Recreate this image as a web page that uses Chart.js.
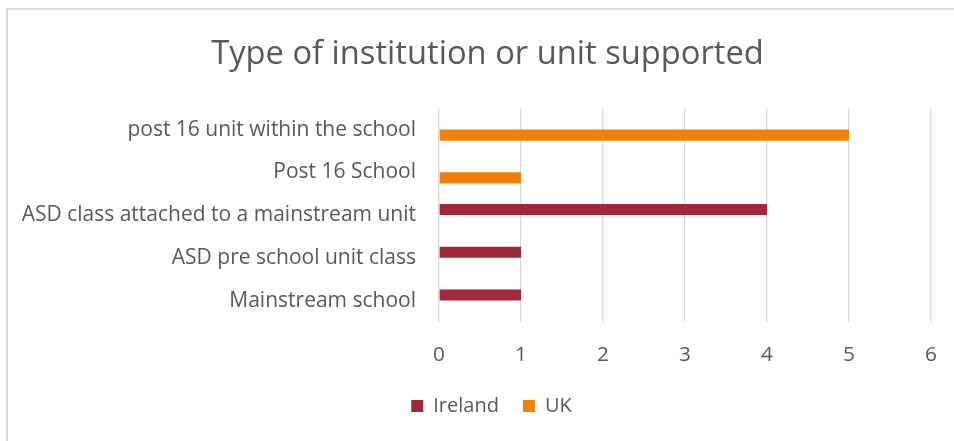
<!DOCTYPE html>
<html>
<head>
<meta charset="utf-8">
<title>Type of institution or unit supported</title>
<script src="https://cdn.jsdelivr.net/npm/chart.js@4"></script>
<style>
    body { margin: 0; background: #fff; overflow: hidden; }
    #frame { position: absolute; left: 6px; top: 8px; width: 2000px; height: 2000px;
             border-left: 2px solid #d9d9d9; border-top: 2px solid #d9d9d9; }
    #chart { position: absolute; left: 0; top: 0; }
</style>
</head>
<body>
<div id="frame"></div>
<canvas id="chart" width="954" height="441"></canvas>
<script>
//================================ data
var categories = [
    'post 16 unit within the school',
    'Post 16 School',
    'ASD class attached to a mainstream unit',
    'ASD pre school unit class',
    'Mainstream school'
];
var valuesIreland = [0, 0, 4, 1, 1];
var valuesUK = [5, 1, 0, 0, 0];
var xTicks = [0, 1, 2, 3, 4, 5, 6];

var textColor = '#595959';
var fontName = '"Open Sans", "Noto Sans", sans-serif';

//legend and title sit a bit right of the canvas centre in the original
var shiftBoxes = {
    id: 'shiftBoxes',
    afterLayout: function(chart) {
        chart.legend.left += 21;
        chart.legend.right += 21;
        chart.titleBlock.left += 17;
        chart.titleBlock.right += 17;
    }
};

//================================ chart
var ctx = document.getElementById('chart');
var barChart = new Chart(ctx, {
    type: 'bar',
    data: {
        labels: categories,
        datasets: [{
            label: 'Ireland',
            data: valuesIreland,
            backgroundColor: '#a1283a',
            borderWidth: 0
        }, {
            label: 'UK',
            data: valuesUK,
            backgroundColor: '#f0800a',
            borderWidth: 0
        }]
    },
    options: {
        indexAxis: 'y',
        responsive: false,
        animation: false,
        categoryPercentage: 0.52,
        barPercentage: 1,
        layout: {
            padding: { left: 10, right: 23, top: 0, bottom: 15 }
        },
        scales: {
            x: {
                min: xTicks[0],
                max: xTicks[xTicks.length - 1],
                afterBuildTicks: function(scale) {
                    scale.ticks = xTicks.map(function(v) { return { value: v }; });
                },
                afterFit: function(scale) {
                    scale.height = 50;
                    scale.paddingLeft = 0;
                    scale.paddingRight = 0;
                },
                grid: { color: '#d9d9d9', lineWidth: 1.3, drawTicks: false },
                border: { display: false },
                ticks: {
                    color: textColor,
                    padding: 21,
                    font: { family: fontName, size: 20.8 }
                }
            },
            y: {
                afterFit: function(scale) { scale.width = 439 - 10; },
                grid: { display: false, drawTicks: false },
                border: { display: false },
                ticks: {
                    color: textColor,
                    padding: 23,
                    font: { family: fontName, size: 21 }
                }
            }
        },
        plugins: {
            title: {
                display: true,
                text: 'Type of institution or unit supported',
                color: textColor,
                font: { family: fontName, size: 32.7, weight: 'normal' },
                padding: { top: 35, bottom: 34 }
            },
            legend: {
                position: 'bottom',
                labels: {
                    color: textColor,
                    boxWidth: 12,
                    boxHeight: 12,
                    padding: 24,
                    font: { family: fontName, size: 20 }
                }
            },
            tooltip: { enabled: false }
        }
    },
    plugins: [shiftBoxes]
});
</script>
</body>
</html>
